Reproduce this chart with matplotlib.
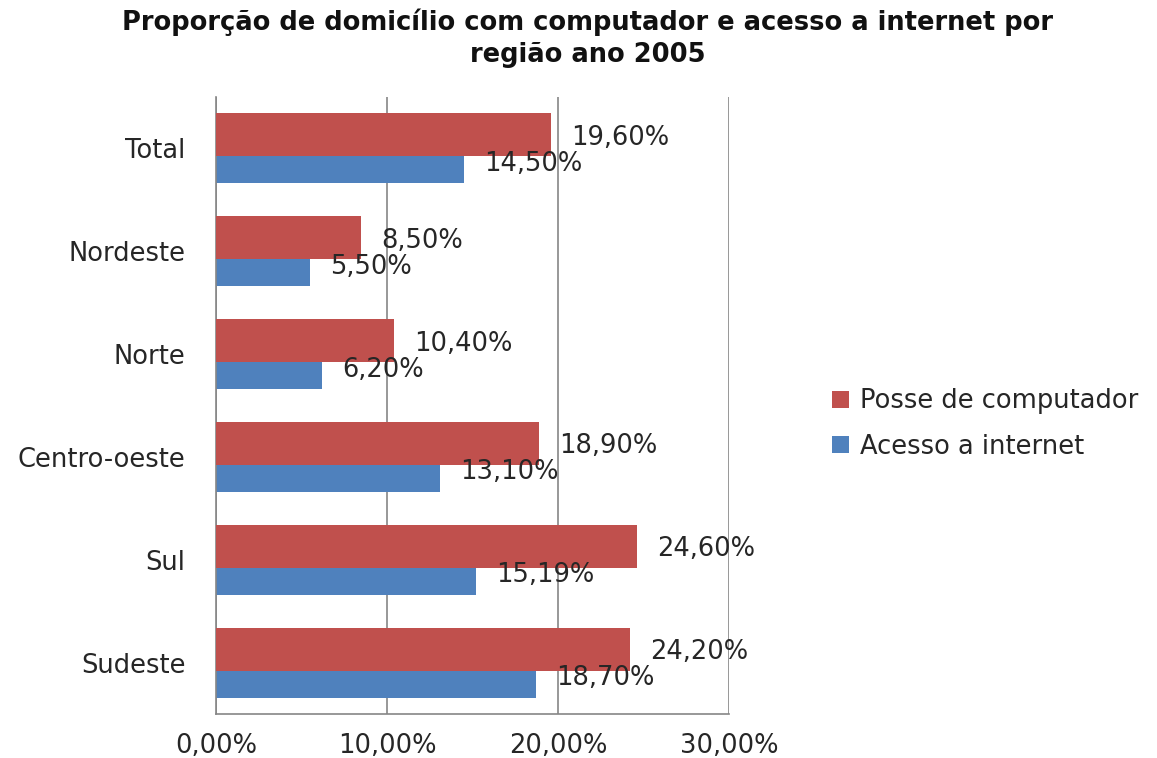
import matplotlib
matplotlib.use("Agg")
import matplotlib.pyplot as plt
import numpy as np

categories = ["Total", "Nordeste", "Norte", "Centro-oeste", "Sul", "Sudeste"]
posse = [19.60, 8.50, 10.40, 18.90, 24.60, 24.20]
acesso = [14.50, 5.50, 6.20, 13.10, 15.19, 18.70]
posse_labels = ["19,60%", "8,50%", "10,40%", "18,90%", "24,60%", "24,20%"]
acesso_labels = ["14,50%", "5,50%", "6,20%", "13,10%", "15,19%", "18,70%"]
xticks = [0, 10, 20, 30]
xtick_labels = ["0,00%", "10,00%", "20,00%", "30,00%"]
title = "Proporção de domicílio com computador e acesso a internet por\nregião ano 2005"

RED = "#C0504D"
BLUE = "#4F81BD"
GRID = "#868686"
TXT = "#262626"
FS = 18.5

fig = plt.figure(figsize=(11.57, 7.58), dpi=100)
ax = fig.add_axes([216/1157, 1-714/758, (729-216)/1157, (714-97)/758])

n = len(categories)
ypos = np.arange(n)[::-1].astype(float)  # Total at top
h = 0.418
off = 0.131

b_ac = ax.barh(ypos - off, acesso, height=h, color=BLUE, zorder=2)
b_po = ax.barh(ypos + off, posse, height=h, color=RED, zorder=3)

for y, v, lab in zip(ypos, posse, posse_labels):
    ax.annotate(lab, (v, y + off), xytext=(20, -3), textcoords="offset pixels",
                ha="left", va="center", fontsize=FS, color=TXT, zorder=5)
for y, v, lab in zip(ypos, acesso, acesso_labels):
    ax.annotate(lab, (v, y - off), xytext=(20, -2), textcoords="offset pixels",
                ha="left", va="center", fontsize=FS, color=TXT, zorder=5)

ax.set_xlim(0, 30)
ax.set_ylim(-0.5, n - 0.5)
ax.set_xticks(xticks)
ax.set_xticklabels(xtick_labels, fontsize=FS, color=TXT)
ax.set_yticks(ypos)
ax.set_yticklabels(categories, fontsize=FS, color=TXT)
ax.tick_params(axis="x", length=0, pad=14)
ax.tick_params(axis="y", length=0, pad=22)
ax.xaxis.grid(True, color=GRID, linewidth=1.2, zorder=0)
ax.set_axisbelow(True)
for s in ["top", "right"]:
    ax.spines[s].set_visible(False)
for s in ["left", "bottom"]:
    ax.spines[s].set_color(GRID)
    ax.spines[s].set_linewidth(1.2)

fig.text(588/1157, 1 - 38/758, title, ha="center", va="center", fontsize=18.5,
         fontweight="bold", family=["DejaVu Sans"], color="#111111",
         linespacing=1.3)

handles = [b_po, b_ac]
leg = fig.legend(handles, ["Posse de computador", "Acesso a internet"],
                 loc="center left", bbox_to_anchor=(809/1157, 1 - 424/758),
                 frameon=False, fontsize=FS, handlelength=0.65, handleheight=0.65,
                 handletextpad=0.45, labelspacing=0.75)
for t in leg.get_texts():
    t.set_color(TXT)

fig.savefig("out.png", dpi=100)
